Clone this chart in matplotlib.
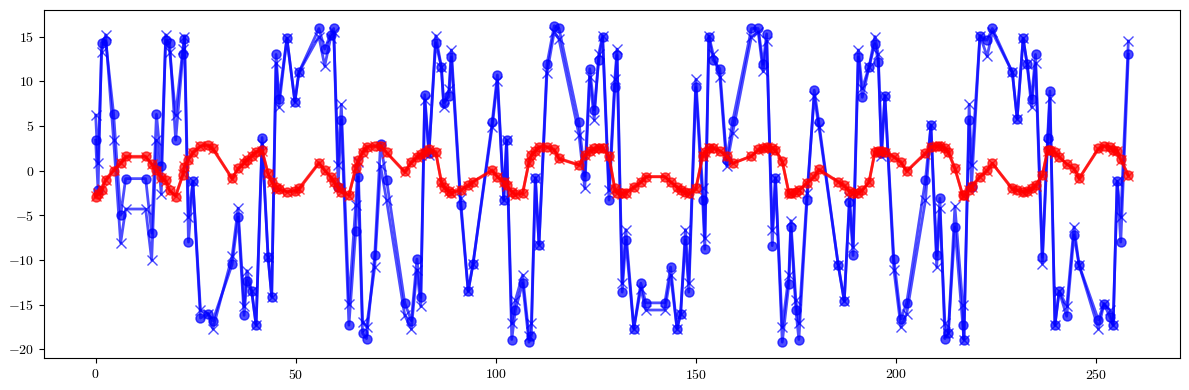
import matplotlib
matplotlib.use("Agg")
import matplotlib.pyplot as plt

plt.rcParams['font.family'] = 'serif'
plt.rcParams['font.serif'] = ['cmr10']
plt.rcParams['mathtext.fontset'] = 'cm'
plt.rcParams['axes.formatter.use_mathtext'] = True
plt.rcParams['font.size'] = 10

# sample positions
t = [0.0, 0.6, 1.5, 2.5, 4.5, 6.25, 7.5, 12.5, 14.0, 15.2, 16.4, 17.5, 18.5, 20.0,
     21.8, 22.2, 23.2, 24.3, 26.2, 28.1, 29.3, 34.1, 35.6, 37.1, 37.8, 39.0, 40.1,
     41.6, 43.1, 44.0, 45.1, 45.8, 47.8, 49.8, 50.8, 55.8, 57.25, 58.7, 59.5, 60.6,
     61.4, 63.3, 65.0, 65.6, 66.7, 67.7, 69.75, 71.2, 72.7, 77.25, 78.9, 80.3, 81.25,
     82.25, 83.3, 85.0, 86.4, 87.0, 88.3, 88.9, 91.2, 93.1, 94.3, 99.1, 100.4, 102.0,
     102.7, 104.0, 104.9, 106.7, 108.3, 108.9, 109.9, 110.8, 112.8, 114.6, 115.8,
     120.8, 122.25, 123.5, 124.6, 125.75, 126.7, 128.3, 129.75, 130.3, 131.6, 132.5,
     134.5, 136.25, 137.5, 142.25, 143.7, 145.3, 146.2, 147.4, 148.25, 150.0, 151.7,
     152.25, 153.25, 154.3, 156.0, 157.7, 159.2, 163.9, 165.6, 166.8, 167.7, 169.1,
     169.9, 171.6, 173.25, 173.75, 175.0, 175.75, 177.8, 179.6, 180.75, 185.6, 187.1,
     188.4, 189.3, 190.6, 191.6, 193.3, 194.75, 195.6, 196.4, 197.25, 199.5, 201.25,
     202.7, 207.4, 208.75, 210.2, 211.0, 212.25, 213.1, 214.75, 216.7, 217.0, 218.3,
     218.9, 221.0, 222.8, 224.1, 229.1, 230.3, 231.8, 232.8, 233.9, 234.9, 236.6,
     237.9, 238.5, 239.75, 240.8, 242.7, 244.5, 245.8, 250.6, 252.0, 253.5, 254.3,
     255.3, 256.2, 258.1]

# blue, circle markers
blue_o = [3.4, -2.2, 14.3, 14.5, 6.3, -5.0, -0.9, -0.9, -7.0, 6.3, 0.5, 14.6, 14.3, 3.4,
          13.0, 14.7, -8.0, -1.2, -16.5, -16.0, -16.8, -10.5, -5.2, -16.2, -12.3, -13.5, -17.3,
          3.7, -9.7, -14.1, 13.0, 8.0, 14.8, 7.7, 11.0, 15.9, 13.6, 15.2, 15.9, -1.8,
          5.7, -17.3, -6.8, -0.7, -18.2, -18.8, -9.5, 3.0, -1.0, -14.8, -16.8, -9.9, -14.2,
          8.5, 2.0, 14.3, 11.6, 7.6, 8.3, 12.7, -3.8, -13.5, -10.5, 5.4, 10.7, -3.3,
          3.4, -18.9, -15.6, -12.6, -19.2, -18.5, -0.8, -8.3, 11.9, 16.2, 15.9,
          5.4, -0.6, 11.4, 6.8, 12.4, 14.9, -3.3, 9.3, 12.9, -13.6, -7.8,
          -17.7, -12.6, -14.8, -14.8, -10.8, -17.7, -16.0, -7.8, -13.6, 9.3, -3.3,
          -8.8, 14.9, 12.4, 11.4, 1.2, 5.5, 15.9, 15.9, 11.9, 15.3, -8.4,
          -0.8, -19.2, -12.7, -6.3, -15.6, -18.9, -3.3, 9.0, 5.4, -10.6, -14.6,
          -3.5, -9.5, 12.7, 8.2, 11.6, 14.2, 12.2, 2.0, 8.4, -9.9, -16.6,
          -14.8, -1.0, 5.1, -9.5, -3.1, -18.8, -18.2, -6.3, -17.3, -18.9, 5.7,
          -1.8, 15.1, 14.6, 15.9, 11.0, 5.8, 14.8, 11.9, 8.0, 13.0, -9.7,
          3.6, 8.9, -17.3, -13.5, -16.3, -7.2, -10.6, -16.7, -14.9, -16.4, -17.3,
          -1.2, -8.0, 13.0]

# blue, cross markers
blue_x = [6.2, 0.8, 13.3, 15.2, 3.4, -8.1, -4.3, -4.3, -10.0, 3.4, -2.6, 15.2, 13.3, 6.2,
          13.6, 15.0, -5.2, -1.2, -15.6, -16.0, -17.7, -9.6, -4.2, -15.2, -11.2, -13.5, -17.3,
          3.0, -9.7, -14.1, 12.0, 7.1, 14.8, 7.7, 11.0, 15.0, 11.7, 14.8, 15.5, 0.6,
          7.4, -14.9, -3.8, 1.0, -16.9, -17.5, -10.8, 0.5, -3.3, -16.2, -17.7, -11.1, -15.2,
          7.9, 1.8, 15.1, 11.6, 7.1, 9.1, 13.5, -3.1, -13.5, -10.5, 4.9, 10.0, -3.3,
          3.4, -17.1, -14.5, -11.7, -18.5, -17.1, -0.8, -8.3, 10.9, 15.5, 14.7,
          4.0, -2.0, 10.5, 5.7, 13.1, 15.1, -2.2, 10.2, 13.6, -12.6, -6.6,
          -17.7, -13.2, -15.6, -15.6, -11.7, -17.7, -16.0, -6.6, -12.6, 10.2, -2.0,
          -7.5, 15.1, 13.1, 10.5, 0.5, 4.2, 15.0, 15.5, 11.1, 14.5, -6.7,
          -0.8, -17.5, -11.7, -5.6, -14.5, -17.1, -2.5, 8.3, 4.9, -10.6, -14.6,
          -3.0, -8.5, 13.5, 9.2, 11.6, 15.0, 13.0, 1.6, 8.4, -11.1, -17.5,
          -16.0, -3.3, 5.1, -10.8, -4.2, -17.1, -18.2, -4.0, -15.0, -18.9, 7.4,
          0.6, 15.1, 12.8, 15.5, 11.0, 5.8, 14.8, 11.9, 7.1, 12.0, -10.4,
          3.0, 8.1, -17.3, -13.5, -15.2, -6.3, -10.6, -17.7, -14.9, -15.6, -17.3,
          -1.2, -5.2, 14.5]

# red, circle markers
red_o = [-2.9, -2.6, -2.2, -1.1, 0.0, 0.8, 1.6, 1.6, 0.75, 0.1, -0.7, -1.1, -2.2, -2.9,
         -0.5, 0.4, 1.2, 2.1, 2.76, 2.88, 2.5, -0.86, 0.26, 0.82, 1.2, 1.68, 2.13,
         2.3, -0.3, -1.23, -1.8, -2.05, -2.35, -2.24, -2.0, 0.9, 0.07, -0.67, -1.23, -1.8,
         -2.35, -2.7, 0.26, 1.2, 2.13, 2.69, 2.8, 2.8, 2.05, -0.1, 1.0, 1.57, 1.87,
         2.13, 2.39, 2.13, -1.23, -1.8, -2.28, -2.47, -2.17, -1.6, -1.23, 0.07, -0.67, -1.23,
         -1.6, -2.35, -2.65, -2.54, 1.0, 1.75, 2.24, 2.69, 2.69, 2.39, 1.38,
         0.64, 1.75, 2.24, 2.5, 2.58, 2.58, 1.64, -2.0, -2.47, -2.54, -2.47,
         -1.8, -1.23, -0.67, -0.67, -1.23, -1.8, -2.17, -2.43, -2.54, -2.0, 1.64,
         2.13, 2.58, 2.58, 2.24, 1.68, 0.82, 1.64, 2.39, 2.58, 2.69, 2.58,
         2.3, 1.08, -2.47, -2.54, -2.43, -2.17, -1.34, -0.6, 0.15, -1.23, -1.6,
         -2.3, -2.47, -2.47, -2.17, -1.23, 2.13, 2.24, 2.2, 2.13, 1.57, 1.0,
         -0.04, 2.0, 2.69, 2.76, 2.76, 2.58, 2.13, 0.3, -2.73, -2.7, -2.17,
         -1.72, -0.67, 0.07, 0.82, -2.0, -2.17, -2.35, -2.28, -2.0, -1.6, -0.49,
         2.3, 2.3, 2.13, 1.57, 0.75, 0.26, -0.86, 2.5, 2.8, 2.69, 2.3,
         2.24, 1.27, -0.49]

# red, cross markers
red_x = [-2.8, -2.5, -2.1, -1.0, 0.1, 0.9, 1.5, 1.5, 0.7, 0.0, -0.8, -1.2, -2.3, -2.8,
         -0.4, 0.5, 1.3, 2.0, 2.7, 2.8, 2.4, -0.9, 0.2, 0.9, 1.3, 1.6, 2.1,
         2.2, -0.4, -1.3, -1.9, -2.1, -2.4, -2.3, -2.1, 0.8, 0.0, -0.7, -1.3, -1.9,
         -2.4, -2.8, 0.3, 1.1, 2.0, 2.6, 2.7, 2.7, 2.0, -0.2, 0.9, 1.5, 1.8,
         2.0, 2.3, 2.0, -1.3, -1.9, -2.3, -2.5, -2.2, -1.7, -1.3, 0.0, -0.7, -1.3,
         -1.7, -2.4, -2.7, -2.6, 0.9, 1.7, 2.2, 2.6, 2.6, 2.3, 1.3,
         0.6, 1.7, 2.2, 2.4, 2.5, 2.5, 1.6, -2.1, -2.5, -2.6, -2.5,
         -1.9, -1.3, -0.7, -0.7, -1.3, -1.9, -2.2, -2.5, -2.6, -2.1, 1.6,
         2.1, 2.5, 2.5, 2.2, 1.6, 0.8, 1.6, 2.3, 2.5, 2.6, 2.5,
         2.2, 1.0, -2.5, -2.6, -2.5, -2.2, -1.4, -0.7, 0.1, -1.3, -1.7,
         -2.4, -2.5, -2.5, -2.2, -1.3, 2.0, 2.2, 2.1, 2.0, 1.5, 0.9,
         -0.1, 1.9, 2.6, 2.7, 2.7, 2.5, 2.0, 0.2, -2.8, -2.8, -2.2,
         -1.8, -0.7, 0.0, 0.8, -2.1, -2.2, -2.4, -2.3, -2.1, -1.7, -0.6,
         2.2, 2.2, 2.0, 1.5, 0.7, 0.2, -0.9, 2.4, 2.7, 2.6, 2.2,
         2.2, 1.2, -0.6]

fig, ax = plt.subplots(figsize=(11.89, 3.9), dpi=100)
fig.subplots_adjust(left=44 / 1189, right=1180 / 1189, top=1 - 10 / 390, bottom=1 - 358 / 390)
ax.plot(t, blue_o, color='blue', marker='o', lw=2, ms=6.5, alpha=0.7)
ax.plot(t, blue_x, color='blue', marker='x', lw=2, ms=6.5, alpha=0.7)
ax.plot(t, red_o, color='red', marker='o', lw=2, ms=6.5, alpha=0.7)
ax.plot(t, red_x, color='red', marker='x', lw=2, ms=6.5, alpha=0.7)
ax.set_yticks([-20, -15, -10, -5, 0, 5, 10, 15])
fig.savefig('out.png')
